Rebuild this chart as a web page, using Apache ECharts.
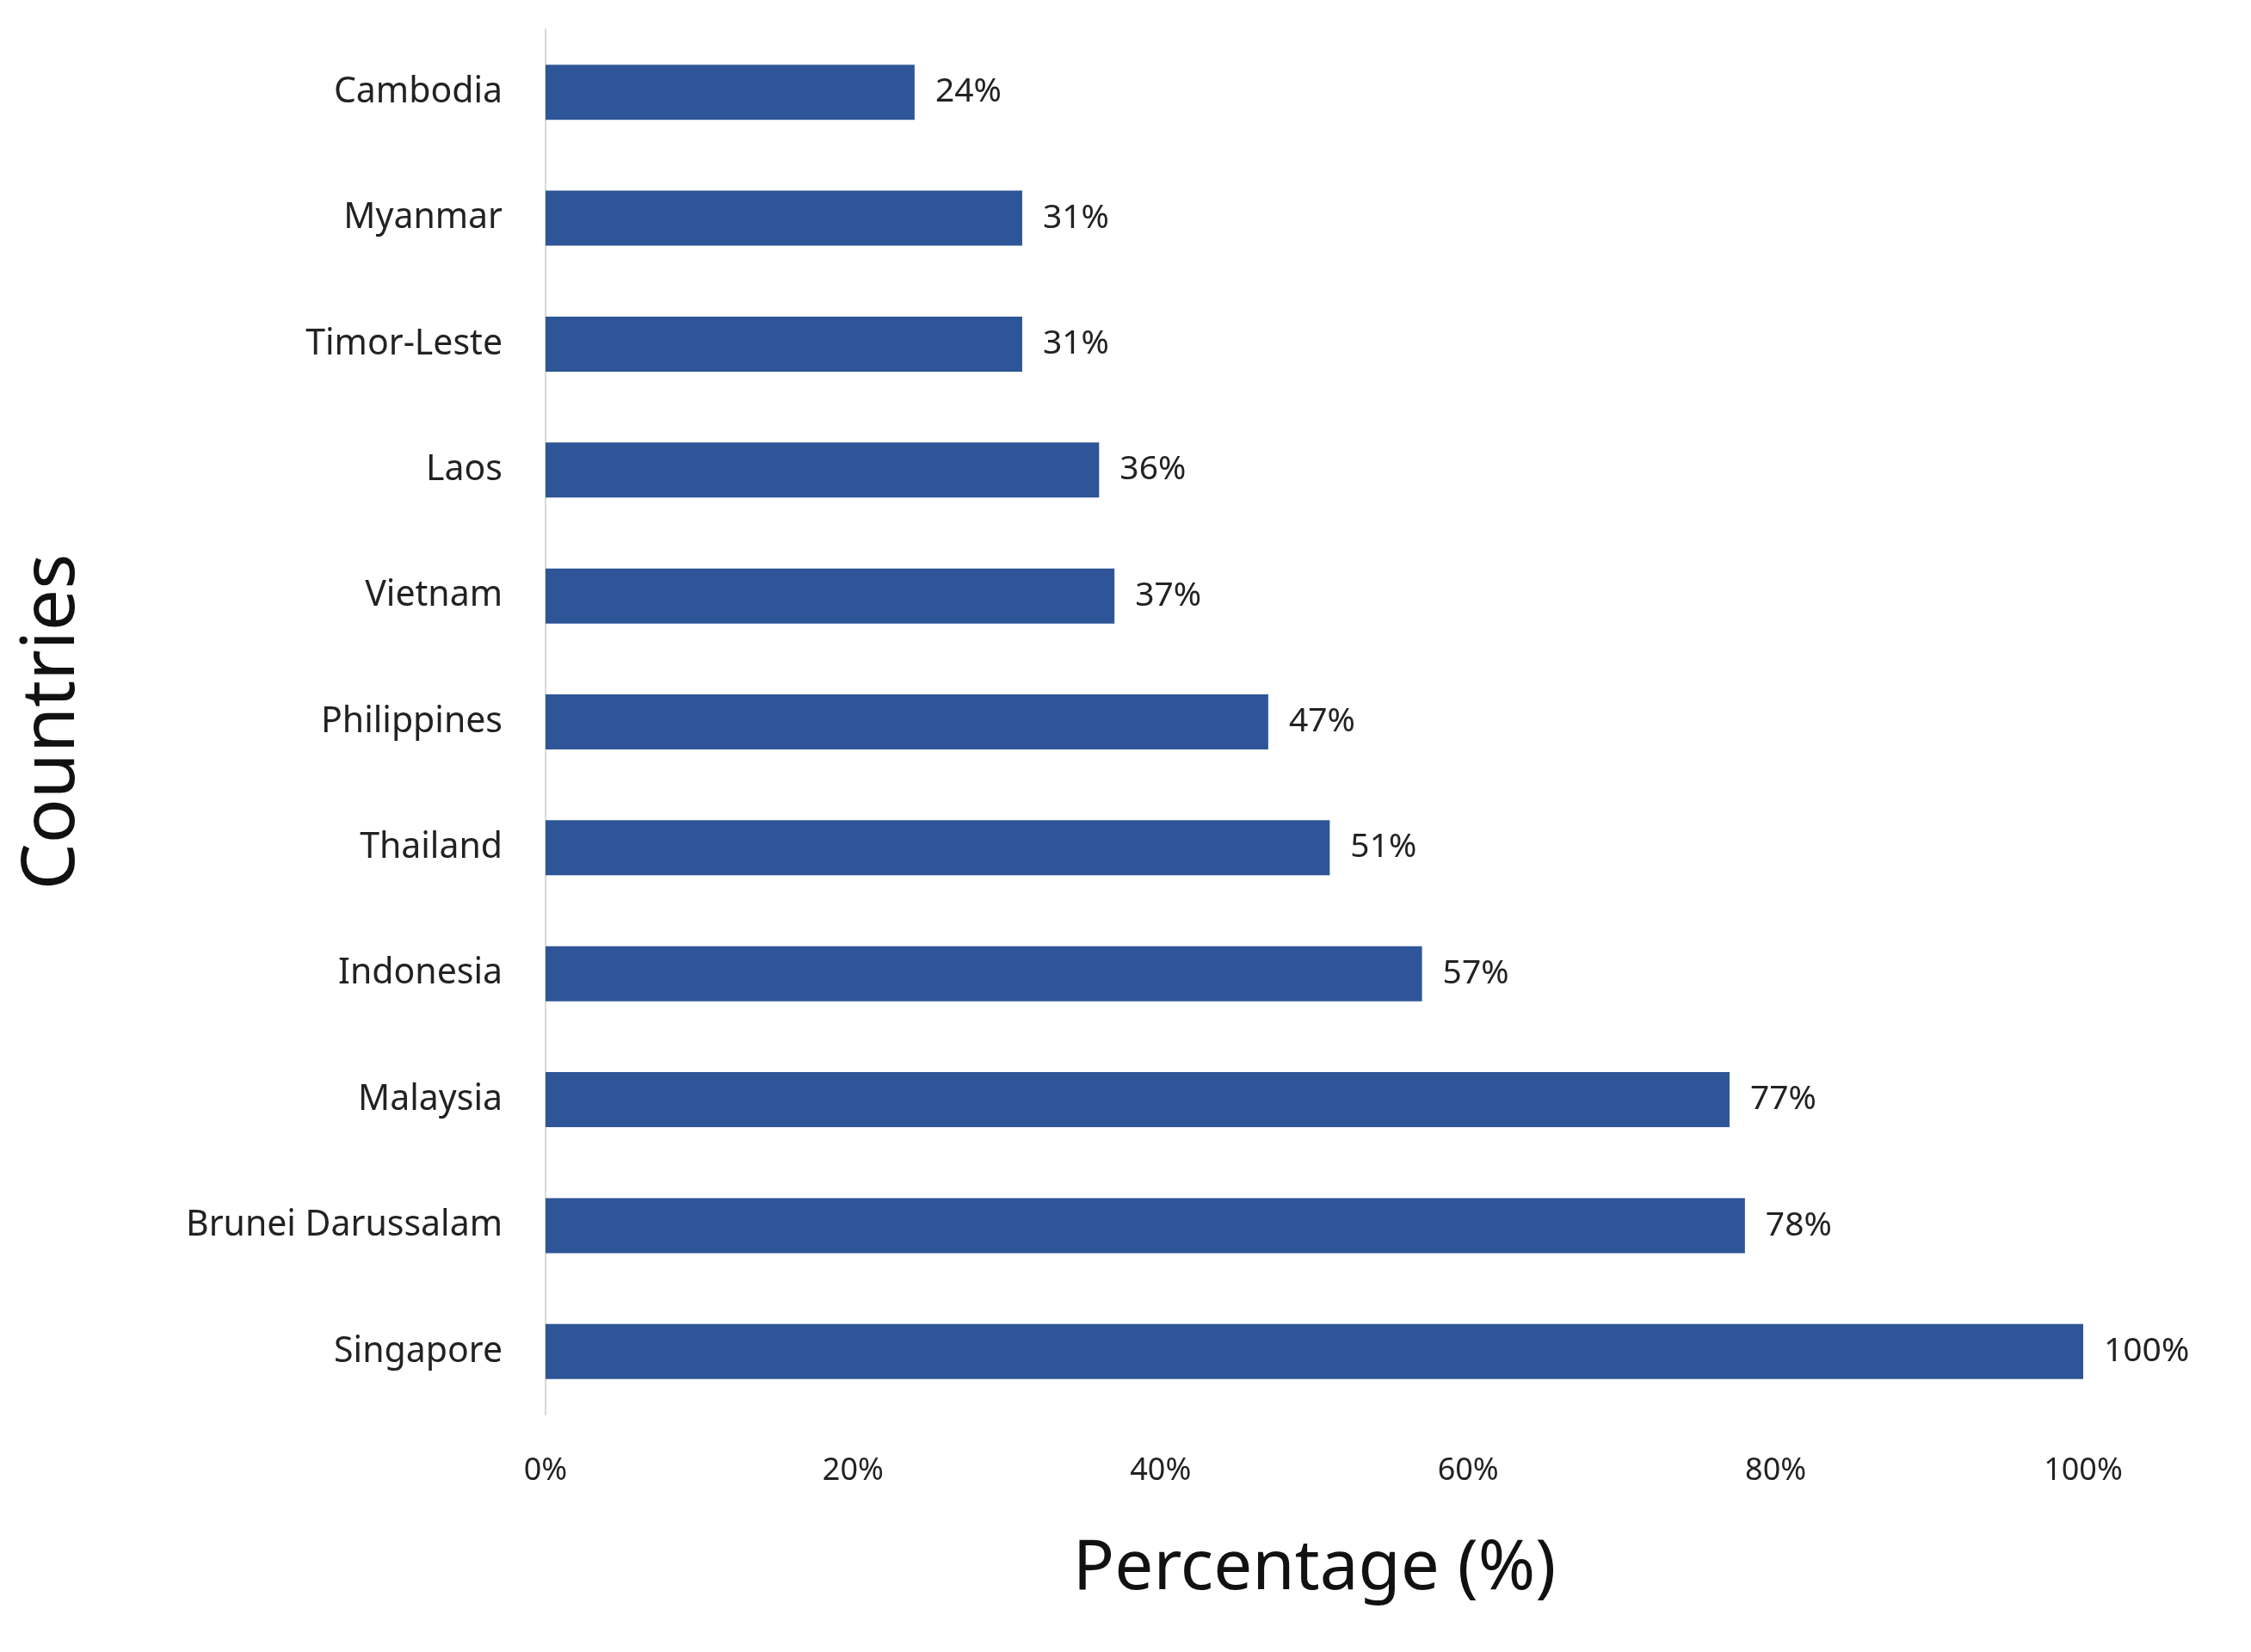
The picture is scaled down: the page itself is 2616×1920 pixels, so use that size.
<!DOCTYPE html>
<html>
<head>
<meta charset="utf-8">
<script src="https://cdn.jsdelivr.net/npm/echarts@6/dist/echarts.min.js"></script>
<style>html,body{margin:0;padding:0;background:#fff;}#chart{width:2616px;height:1920px;}</style>
</head>
<body>
<div id="chart"></div>
<script>
// countries, top to bottom
var countries = ['Cambodia', 'Myanmar', 'Timor-Leste', 'Laos', 'Vietnam', 'Philippines',
  'Thailand', 'Indonesia', 'Malaysia', 'Brunei Darussalam', 'Singapore'];
var percentages = [24, 31, 31, 36, 37, 47, 51, 57, 77, 78, 100];
var xTicks = [0, 20, 40, 60, 80, 100];

var myChart = echarts.init(document.getElementById('chart'));
var font = 'Noto Sans';

var option = {
  backgroundColor: '#fff',
  textStyle: { fontFamily: font },
  grid: { left: 634, right: 195, top: 34, bottom: 276 },
  xAxis: {
    type: 'value',
    min: xTicks[0],
    max: xTicks[xTicks.length - 1],
    interval: 20,
    name: 'Percentage (%)',
    nameLocation: 'middle',
    nameGap: 140,
    nameTextStyle: { fontSize: 80, color: '#111', fontFamily: font },
    axisLine: { show: false },
    axisTick: { show: false },
    splitLine: { show: false },
    axisLabel: { formatter: '{value}%', fontSize: 36, color: '#222', margin: 48 }
  },
  yAxis: {
    type: 'category',
    data: countries,
    inverse: true,
    name: 'Countries',
    nameLocation: 'middle',
    nameGap: 530,
    nameRotate: 90,
    nameTextStyle: { fontSize: 86, color: '#111', fontFamily: font },
    axisLine: { show: true, lineStyle: { color: '#d9d9d9', width: 2 } },
    axisTick: { show: false },
    axisLabel: { fontSize: 41, color: '#222', margin: 50 }
  },
  series: [{
    type: 'bar',
    data: percentages,
    barWidth: 64,
    itemStyle: { color: '#2E5597' },
    label: {
      show: true,
      position: 'right',
      distance: 24,
      formatter: '{c}%',
      fontSize: 39,
      color: '#222'
    }
  }]
};
myChart.setOption(option);
</script>
</body>
</html>
